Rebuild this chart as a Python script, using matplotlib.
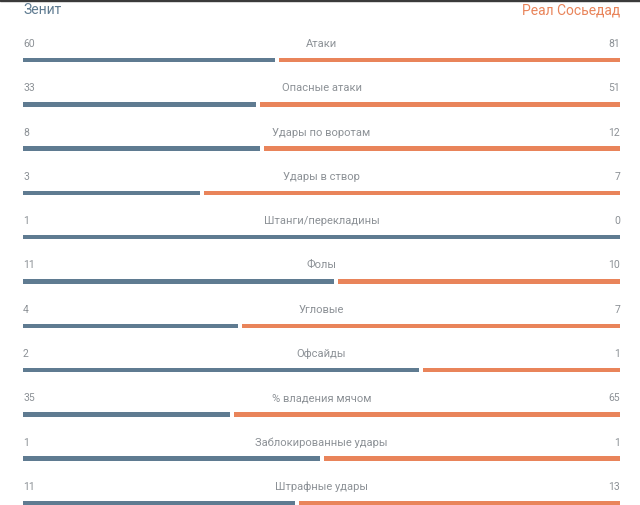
import matplotlib
matplotlib.use("Agg")
import matplotlib.pyplot as plt
from matplotlib.patches import Rectangle

# ---- data ----
home_team = "Зенит"
away_team = "Реал Сосьедад"
stats = ["Атаки", "Опасные атаки", "Удары по воротам", "Удары в створ",
         "Штанги/перекладины", "Фолы", "Угловые", "Офсайды",
         "% владения мячом", "Заблокированные удары", "Штрафные удары"]
home_vals = [60, 33, 8, 3, 1, 11, 4, 2, 35, 1, 11]
away_vals = [81, 51, 12, 7, 0, 10, 7, 1, 65, 1, 13]

# ---- style ----
blue = "#5f7b91"
orange = "#e9845a"
grey = "#8c9196"
plt.rcParams['font.family'] = ['Roboto', 'DejaVu Sans']

W, H = 640, 506
fig = plt.figure(figsize=(W / 100, H / 100), dpi=100)
ax = fig.add_axes([0, 0, 1, 1])
ax.set_xlim(0, W)
ax.set_ylim(H, 0)
ax.axis("off")

# dark strip at top
fig.patches.append(Rectangle((0, 1 - 2 / H), 1, 2 / H, transform=fig.transFigure,
                             color="#3a3a3a", zorder=10))

x0, x1 = 23, 620
gap = 4
row0, step = 61, 44.3
bar_h = 4.5

ax.text(x0, 10, home_team, color=blue, fontsize=10, ha="left", va="center")
ax.text(x1, 10, away_team, color=orange, fontsize=10, ha="right", va="center")

for i, (name, h, a) in enumerate(zip(stats, home_vals, away_vals)):
    yb = row0 + i * step
    yt = yb - 17
    ax.text(x0, yt, str(h), color=grey, fontsize=7.5, ha="left", va="center")
    ax.text(x1, yt, str(a), color=grey, fontsize=7.5, ha="right", va="center")
    ax.text((x0 + x1) / 2, yt, name, color=grey, fontsize=8, ha="center", va="center")
    total = h + a
    span = x1 - x0
    if a == 0:
        ax.barh(yb, span, left=x0, height=bar_h, color=blue)
    elif h == 0:
        ax.barh(yb, span, left=x0, height=bar_h, color=orange)
    else:
        hw = span * h / total
        ax.barh(yb, hw - gap / 2, left=x0, height=bar_h, color=blue)
        ax.barh(yb, span - hw - gap / 2, left=x0 + hw + gap / 2, height=bar_h, color=orange)

fig.savefig("out.png", dpi=100)
